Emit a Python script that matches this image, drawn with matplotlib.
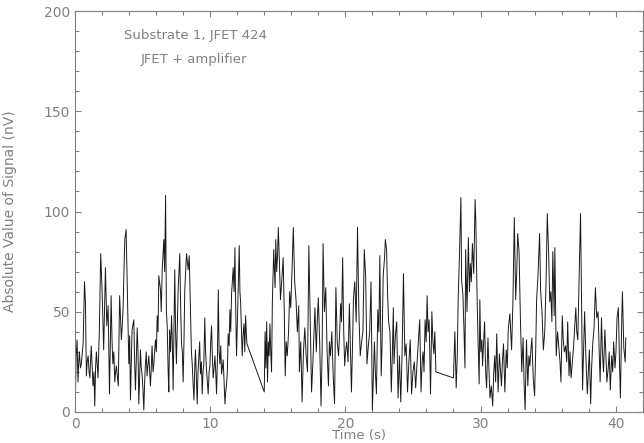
import matplotlib
matplotlib.use('agg')
import matplotlib.pyplot as plt
import numpy as np

# segment 1 : 0 - 12.7 s
t1 = [0.0, 0.03, 0.08, 0.15, 0.22, 0.27, 0.32, 0.40, 0.47, 0.53, 0.60, 0.70, 0.77, 0.84, 0.90, 0.97,
      1.04, 1.10, 1.15, 1.20, 1.27, 1.33, 1.40, 1.46, 1.52, 1.58, 1.64, 1.70, 1.80, 1.90, 2.00,
      2.06, 2.12, 2.25, 2.35, 2.45, 2.55, 2.67, 2.74, 2.80, 2.87, 2.94, 3.00, 3.06, 3.13, 3.20,
      3.30, 3.43, 3.50, 3.56, 3.68, 3.78, 3.88, 3.98, 4.04, 4.10, 4.22, 4.35, 4.41, 4.47, 4.60,
      4.66, 4.72, 4.84, 4.90, 4.96, 5.02, 5.09, 5.15, 5.20, 5.27, 5.33, 5.40, 5.46, 5.52, 5.58,
      5.64, 5.70, 5.77, 5.83, 5.89, 5.95, 6.02, 6.08, 6.14, 6.20, 6.32, 6.38, 6.45, 6.57, 6.63,
      6.70, 6.76, 6.82, 6.89, 6.94, 7.00, 7.07, 7.14, 7.20, 7.26, 7.38, 7.44, 7.50, 7.57, 7.63,
      7.75, 7.82, 7.88, 7.94, 8.00, 8.06, 8.12, 8.25, 8.37, 8.45, 8.55, 8.61, 8.67, 8.73, 8.80,
      8.86, 8.91, 8.97, 9.04, 9.10, 9.16, 9.22, 9.28, 9.35, 9.41, 9.47, 9.53, 9.60, 9.66, 9.73,
      9.79, 9.85, 9.92, 9.98, 10.04, 10.10, 10.16, 10.22, 10.29, 10.35, 10.41, 10.47, 10.53,
      10.60, 10.66, 10.72, 10.78, 10.84, 10.90, 10.96, 11.03, 11.09, 11.15, 11.21, 11.27, 11.33,
      11.40, 11.46, 11.52, 11.58, 11.64, 11.70, 11.77, 11.83, 11.89, 11.95, 12.01, 12.07, 12.15,
      12.20, 12.25, 12.31, 12.37, 12.43, 12.50, 12.56, 12.62, 12.67, 12.72]
v1 = [20, 8, 28, 36, 15, 24, 30, 22, 24, 29, 34, 65, 55, 18, 25, 28,
      20, 17, 26, 33, 22, 13, 20, 3, 22, 30, 24, 17, 41, 79, 61,
      45, 31, 72, 43, 53, 9, 58, 35, 24, 30, 15, 20, 23, 18, 13,
      58, 36, 44, 53, 86, 91, 58, 24, 38, 6, 41, 46, 25, 11, 42,
      30, 4, 31, 22, 19, 12, 1, 15, 23, 30, 18, 24, 28, 20, 13,
      22, 33, 20, 24, 30, 36, 30, 48, 40, 68, 61, 50, 71, 86, 70,
      108, 50, 43, 20, 10, 41, 30, 48, 35, 11, 71, 40, 24, 45, 61,
      79, 50, 34, 30, 15, 35, 61, 79, 71, 78, 48, 30, 24, 15, 6,
      22, 31, 18, 4, 20, 28, 35, 19, 25, 9, 20, 24, 47, 30, 21,
      15, 9, 20, 23, 35, 43, 28, 17, 22, 28, 20, 9, 25,
      61, 30, 24, 33, 19, 22, 26, 15, 4, 10, 14, 20, 39,
      33, 51, 40, 59, 65, 72, 60, 82, 50, 28, 45, 64, 83,
      60, 55, 42, 28, 38, 44, 30, 48, 40, 34]

# segment 2 : 14.0 - 26.7 s
t2 = [14.00, 14.06, 14.12, 14.18, 14.24, 14.30, 14.36, 14.42, 14.48, 14.54, 14.60, 14.70, 14.80,
      14.85, 14.92, 14.98, 15.04, 15.12, 15.20, 15.30, 15.40, 15.48, 15.55, 15.62, 15.70, 15.80,
      15.88, 15.96, 16.05, 16.15, 16.25, 16.35, 16.45, 16.55, 16.60, 16.70, 16.80, 16.90, 17.00,
      17.10, 17.20, 17.30, 17.40, 17.50, 17.60, 17.68, 17.75, 17.85, 17.92, 18.00, 18.10, 18.20,
      18.28, 18.35, 18.45, 18.55, 18.65, 18.75, 18.82, 18.90, 19.00, 19.10, 19.20, 19.30, 19.40,
      19.50, 19.58, 19.65, 19.72, 19.80, 19.88, 19.95, 20.02, 20.10, 20.20, 20.30, 20.38, 20.45,
      20.52, 20.60, 20.70, 20.80, 20.90, 21.00, 21.10, 21.20, 21.30, 21.40, 21.50, 21.60, 21.70,
      21.80, 21.90, 22.00, 22.08, 22.15, 22.22, 22.30, 22.40, 22.48, 22.55, 22.65, 22.72, 22.80,
      22.90, 22.96, 23.05, 23.12, 23.20, 23.30, 23.40, 23.48, 23.55, 23.60, 23.70, 23.80, 23.90,
      24.00, 24.10, 24.20, 24.30, 24.40, 24.50, 24.60, 24.70, 24.80, 24.90, 25.00, 25.10, 25.20,
      25.30, 25.40, 25.50, 25.60, 25.68, 25.75, 25.82, 25.90, 25.98, 26.05, 26.12, 26.20, 26.30,
      26.40, 26.48, 26.55, 26.62, 26.70]
v2 = [10, 40, 22, 45, 15, 35, 28, 44, 30, 20, 55, 81, 62,
      86, 70, 78, 92, 75, 56, 66, 77, 50, 18, 35, 28, 40,
      60, 52, 70, 92, 65, 56, 40, 53, 20, 35, 5, 30, 42,
      28, 20, 83, 45, 10, 25, 40, 52, 30, 45, 57, 35, 3,
      30, 84, 50, 62, 30, 13, 35, 28, 40, 18, 4, 62, 35,
      28, 40, 54, 45, 77, 40, 23, 30, 35, 25, 54, 30, 10,
      30, 57, 65, 45, 92, 50, 28, 35, 40, 81, 68, 24, 33,
      40, 65, 1, 20, 35, 20, 9, 51, 40, 78, 18, 35, 68,
      77, 86, 81, 60, 45, 40, 10, 30, 52, 24, 38, 45, 7,
      28, 5, 30, 69, 28, 34, 10, 25, 36, 9, 20, 25, 12,
      24, 35, 46, 10, 25, 30, 20, 46, 35, 58, 40, 46, 9,
      50, 35, 29, 40, 20]

# segment 3 : 28.0 - 40.75 s
t3 = [28.00, 28.10, 28.20, 28.28, 28.35, 28.45, 28.55, 28.60, 28.70, 28.78, 28.85, 28.90, 29.00,
      29.10, 29.18, 29.25, 29.32, 29.40, 29.50, 29.60, 29.65, 29.75, 29.82, 29.90, 29.95, 30.02,
      30.10, 30.15, 30.22, 30.30, 30.38, 30.45, 30.55, 30.62, 30.70, 30.80, 30.90, 30.98, 31.05,
      31.12, 31.20, 31.30, 31.40, 31.48, 31.55, 31.62, 31.70, 31.80, 31.90, 31.98, 32.05, 32.17,
      32.30, 32.40, 32.50, 32.60, 32.68, 32.75, 32.85, 32.95, 33.05, 33.15, 33.22, 33.30, 33.40,
      33.50, 33.58, 33.65, 33.72, 33.80, 33.90, 34.00, 34.08, 34.15, 34.25, 34.37, 34.45, 34.55,
      34.65, 34.75, 34.85, 34.94, 35.05, 35.12, 35.20, 35.28, 35.35, 35.45, 35.50, 35.60, 35.70,
      35.80, 35.88, 35.95, 36.05, 36.12, 36.20, 36.30, 36.38, 36.45, 36.55, 36.62, 36.70, 36.80,
      36.88, 36.95, 37.05, 37.12, 37.20, 37.30, 37.40, 37.45, 37.55, 37.62, 37.70, 37.80, 37.90,
      37.98, 38.05, 38.15, 38.22, 38.30, 38.40, 38.50, 38.60, 38.70, 38.78, 38.85, 38.95, 39.02,
      39.10, 39.20, 39.28, 39.35, 39.45, 39.52, 39.60, 39.70, 39.78, 39.85, 39.95, 40.02, 40.10,
      40.20, 40.28, 40.35, 40.45, 40.50, 40.60, 40.70, 40.75]
v3 = [17, 40, 12, 28, 57, 80, 107, 66, 58, 40, 22, 81, 50,
      87, 60, 74, 65, 84, 69, 106, 96, 56, 35, 14, 56, 30,
      36, 23, 33, 45, 20, 12, 37, 22, 7, 13, 3, 20, 28,
      15, 39, 10, 29, 20, 13, 25, 34, 10, 31, 22, 41, 49,
      31, 56, 97, 56, 70, 89, 80, 47, 20, 37, 15, 1, 36,
      13, 28, 23, 30, 37, 17, 8, 30, 56, 68, 89, 60, 50,
      31, 40, 65, 99, 77, 55, 60, 45, 80, 48, 82, 28, 40,
      32, 25, 15, 48, 36, 30, 33, 25, 45, 18, 30, 17, 25,
      32, 40, 52, 40, 36, 69, 99, 70, 11, 30, 50, 27, 9,
      20, 31, 4, 22, 34, 42, 62, 47, 50, 30, 15, 47, 30,
      20, 41, 28, 15, 22, 30, 11, 28, 20, 35, 22, 30, 47,
      52, 25, 7, 47, 60, 32, 25, 37]

time = t1 + t2 + t3
signal = v1 + v2 + v3

grey = '#808080'

fig = plt.figure(figsize=(6.44, 4.43), dpi=100)
ax = fig.add_axes([0.1165, 0.070, 0.8815, 0.905])
ax.plot(time, signal, color='#1a1a1a', linewidth=0.7)

ax.set_xlim(0, 42)
ax.set_ylim(0, 200)
ax.set_xticks([0, 10, 20, 30, 40])
ax.set_xticks(np.arange(0, 42, 2), minor=True)
ax.set_yticks([0, 50, 100, 150, 200])
ax.set_yticks(np.arange(0, 201, 10), minor=True)
ax.tick_params(which='both', direction='in', top=True, right=True, color=grey,
               labelcolor=grey, labelsize=10, width=0.8)
ax.tick_params(which='major', length=4)
ax.tick_params(which='minor', length=3)
for s in ax.spines.values():
    s.set_color(grey)
    s.set_linewidth(0.8)

ax.set_xlabel('Time (s)', color=grey, fontsize=9.5, labelpad=-1)
ax.set_ylabel('Absolute Value of Signal (nV)', color=grey, fontsize=10, labelpad=19)

ax.text(8.9, 188, 'Substrate 1, JFET 424', color=grey, fontsize=9.5, ha='center', va='center')
ax.text(8.8, 176, 'JFET + amplifier', color=grey, fontsize=9.5, ha='center', va='center')

plt.savefig('out.png', dpi=100)
plt.close()
